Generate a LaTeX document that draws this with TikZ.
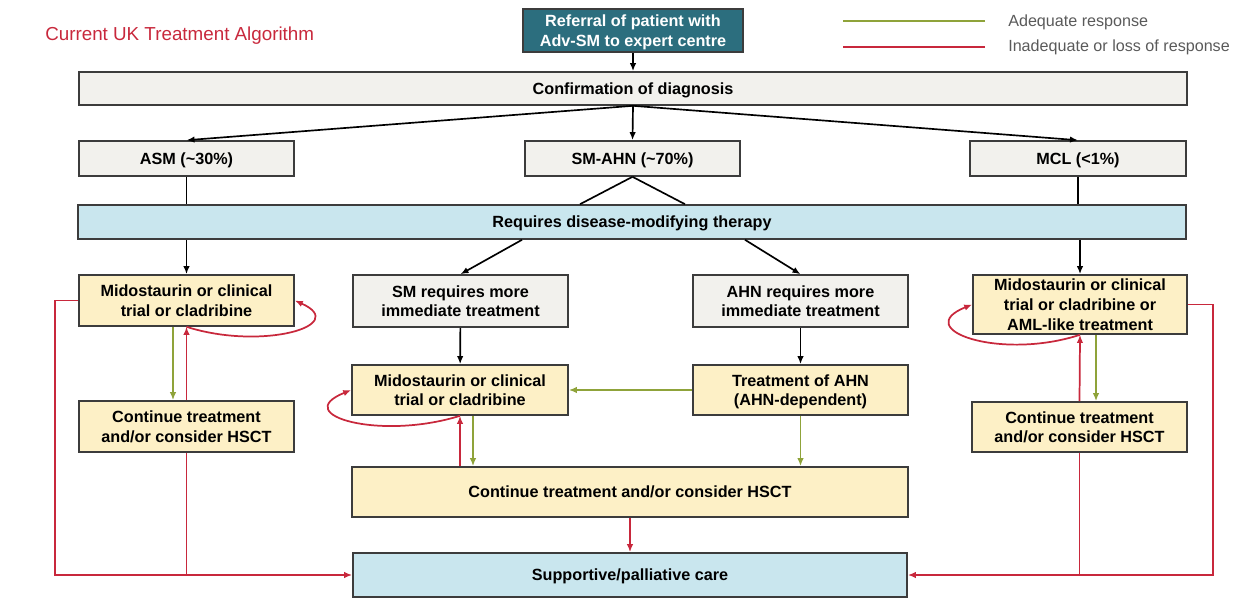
\documentclass[tikz,border=0pt]{standalone}
\usepackage{fontspec}
\setmainfont{Liberation Sans}
\usetikzlibrary{arrows.meta,calc}

\definecolor{refteal}{HTML}{2C6E7E}
\definecolor{boxgray}{HTML}{F2F1ED}
\definecolor{boxyellow}{HTML}{FDF0C6}
\definecolor{boxblue}{HTML}{C9E6EE}
\definecolor{boxline}{HTML}{3C3C3C}
\definecolor{okgreen}{HTML}{8FA33A}
\definecolor{failred}{HTML}{C8283C}
\definecolor{legendtext}{HTML}{5A5A5A}

\begin{document}
\begin{tikzpicture}[
  x=0.75pt, y=-0.75pt,
  box/.style={draw=boxline, line width=1.2pt, align=center, inner sep=0pt,
    text depth=0pt, font=\fontsize{12.15}{14.8}\selectfont\bfseries},
  gbox/.style={box, fill=boxgray},
  ybox/.style={box, fill=boxyellow},
  bbox/.style={box, fill=boxblue},
  tbox/.style={box, fill=refteal, text=white},
  legendlabel/.style={anchor=west, inner sep=0pt, text=legendtext, font=\fontsize{12.1}{14}\selectfont},
  arr/.style={-{Latex[length=6pt,width=4.8pt]}},
  flow/.style={line width=1.25pt, black},
  good/.style={line width=1.3pt, okgreen},
  bad/.style={line width=1.3pt, failred},
]
\useasboundingbox (0,0) rectangle (1241,599);

% title and legend
\node[anchor=west, inner sep=0pt, text=failred, font=\fontsize{14.1}{16}\selectfont] (title) at (45,36) {Current UK Treatment Algorithm};
\node[legendlabel] (legok) at (1008,22) {Adequate response};
\node[legendlabel] (legbad) at (1008,47) {Inadequate or loss of response};
\coordinate (legokA) at ($(legok.west)+(-23,-1)$);
\coordinate (legbadA) at ($(legbad.west)+(-23,0)$);
\draw[good] (legokA) -- ++(-142,0);
\draw[bad] (legbadA) -- ++(-142,0);

% boxes
\node[tbox, minimum width=165pt, minimum height=32.25pt] (ref) at (633,30.5) {Referral of patient with\\Adv-SM to expert centre};
\node[gbox, minimum width=831pt, minimum height=24.75pt] (conf) at (633,88.5) {Confirmation of diagnosis};

\node[gbox, minimum width=161.25pt, minimum height=26.25pt] (asm) at (186.5,158.5) {ASM (\textasciitilde30\%)};
\node[gbox, minimum width=161.25pt, minimum height=26.25pt] (smahn) at (632.5,158.5) {SM-AHN (\textasciitilde70\%)};
\node[gbox, minimum width=162pt, minimum height=26.25pt] (mcl) at (1078,158.5) {MCL (<1\%)};

\node[bbox, minimum width=831pt, minimum height=25.5pt] (req) at (632,222) {Requires disease-modifying therapy};

\node[ybox, minimum width=161.25pt, minimum height=38.25pt] (midL) at (186.5,300.5) {Midostaurin or clinical\\trial or cladribine};
\node[gbox, minimum width=161.25pt, minimum height=39pt] (smreq) at (460.5,301) {SM requires more\\immediate treatment};
\node[gbox, minimum width=161.25pt, minimum height=39pt] (ahnreq) at (800.5,301) {AHN requires more\\immediate treatment};
\node[ybox, minimum width=160.5pt, minimum height=44.25pt] (midR) at (1080,304.5) {Midostaurin or clinical\\trial or cladribine or\\AML-like treatment};

\node[ybox, minimum width=162pt, minimum height=37.5pt] (midM) at (460,390) {Midostaurin or clinical\\trial or cladribine};
\node[ybox, minimum width=161.25pt, minimum height=37.5pt] (trt) at (800.5,390) {Treatment of AHN\\(AHN-dependent)};

\node[ybox, minimum width=161.25pt, minimum height=38.25pt] (contL) at (186.5,426.5) {Continue treatment\\and/or consider HSCT};
\node[ybox, minimum width=161.25pt, minimum height=37.5pt] (contR) at (1079.5,427) {Continue treatment\\and/or consider HSCT};
\node[ybox, minimum width=417pt, minimum height=37.5pt] (contM) at (630,492) {Continue treatment and/or consider HSCT};

\node[bbox, minimum width=415.5pt, minimum height=33pt] (supp) at (630,575) {Supportive/palliative care};

% main flow
\draw[flow, arr] (ref) -- (conf);
\draw[flow, arr] (conf.south) -- (asm.north);
\draw[flow, arr] (conf.south) -- (smahn.north);
\draw[flow, arr] (conf.south) -- (mcl.north);

\draw[flow] (asm.south) -- (asm.south |- req.north);
\draw[flow] (mcl.south) -- (mcl.south |- req.north);
\draw[flow] (smahn.south) -- ($(req.north)+(-52,0)$);
\draw[flow] (smahn.south) -- ($(req.north)+(53,0)$);

\draw[flow, arr] (req.south -| midL.north) -- (midL.north);
\draw[flow, arr] (req.south -| midR.north) -- (midR.north);
\draw[flow, arr] ($(req.south)+(-110,0)$) -- (smreq.north);
\draw[flow, arr] ($(req.south)+(113,0)$) -- (ahnreq.north);
\draw[flow, arr] (smreq) -- (midM);
\draw[flow, arr] (ahnreq) -- (trt);

% adequate response
\coordinate (gL) at ($(midL.south)+(-13.5,0)$);
\coordinate (gR) at ($(midR.south)+(16,0)$);
\coordinate (gM) at ($(midM.south)+(13,0)$);
\draw[good, arr] (gL) -- (gL |- contL.north);
\draw[good, arr] (gR) -- (gR |- contR.north);
\draw[good, arr] (gM) -- (gM |- contM.north);
\draw[good, arr] (trt.west) -- (midM.east);
\draw[good, arr] (trt.south) -- (trt.south |- contM.north);

% inadequate or loss of response
\draw[bad, arr] (contL.north) -- (midL.south);
\draw[bad, arr] (contR.north) -- (midR.south);
\draw[bad, arr] (midM.south |- contM.north) -- (midM.south);
\draw[bad, arr] (midL.south) .. controls +(75,24) and +(56,25) .. (midL.east);
\draw[bad, arr] (midM.south) .. controls +(-80,25) and +(-62,25) .. (midM.west);
\draw[bad, arr] (midR.south) .. controls +(-80,26) and +(-62,25) .. (midR.west);

\draw[bad, arr] (midL.west) -- ++(-23,0) |- (supp.west);
\draw[bad] (contL.south) -- (contL.south |- supp.west);
\draw[bad, arr] (midR.east) -- ++(25,0) |- (supp.east);
\draw[bad] (contR.south) -- (contR.south |- supp.east);
\draw[bad, arr] (contM) -- (supp);
\end{tikzpicture}
\end{document}
